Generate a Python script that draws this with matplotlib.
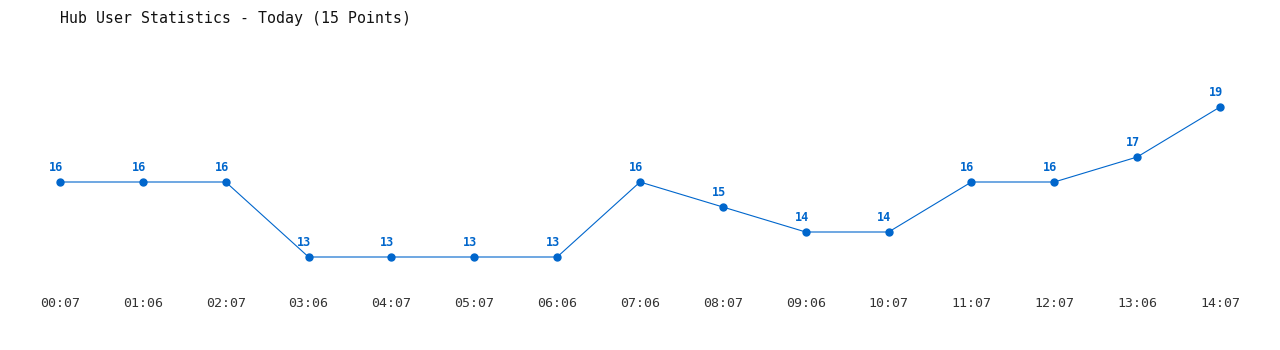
import matplotlib
matplotlib.use("Agg")
import matplotlib.pyplot as plt

# data
times = ["00:07", "01:06", "02:07", "03:06", "04:07", "05:07", "06:06", "07:06",
         "08:07", "09:06", "10:07", "11:07", "12:07", "13:06", "14:07"]
users = [16, 16, 16, 13, 13, 13, 13, 16, 15, 14, 14, 16, 16, 17, 19]

blue = "#0066cc"
mono = "DejaVu Sans Mono"

fig = plt.figure(figsize=(12.8, 3.5), dpi=100)
# axes spans the point positions exactly: x 60..1220 px, y 107..257 px
ax = fig.add_axes([60/1280, (350-257)/350, 1160/1280, 150/350])

x = list(range(len(users)))
ax.plot(x, users, color=blue, lw=0.8, marker="o", ms=5, clip_on=False)
for xi, v in zip(x, users):
    ax.annotate(str(v), (xi, v), xytext=(-3, 6), textcoords="offset points",
                ha="center", va="bottom", color=blue, fontsize=8.5,
                fontweight="bold", family=mono)

ax.set_xlim(0, len(users) - 1)
ax.set_ylim(min(users), max(users))
ax.set_xticks(x)
ax.set_xticklabels(times, family=mono, fontsize=9.5, color="#333333")
ax.tick_params(axis="x", length=0, pad=29)
ax.set_yticks([])
for s in ax.spines.values():
    s.set_visible(False)

fig.text(60/1280, 1 - 18/350, "Hub User Statistics - Today (15 Points)",
         family=mono, fontsize=10.7, va="center", ha="left", color="#111111")

fig.savefig("out.png", dpi=100)
